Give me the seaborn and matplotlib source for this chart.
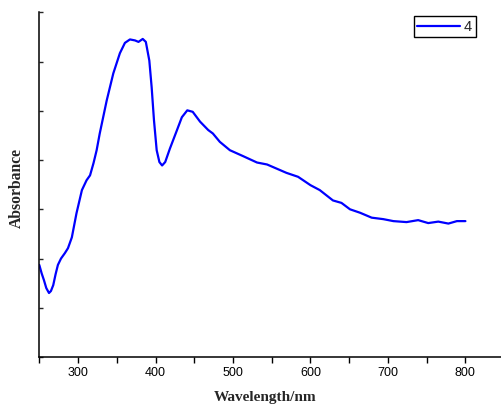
import matplotlib
matplotlib.use("Agg")
import matplotlib.pyplot as plt
import seaborn as sns
import pandas as pd
from matplotlib.ticker import MultipleLocator

# Absorption spectrum (sample "4")
wavelength = [250, 253, 256, 259, 262.5, 265, 268, 271, 274, 278, 283, 287, 292, 298,
              305, 311, 315.5, 320, 324, 328, 337, 345.5, 354, 360.5, 367, 373.5,
              378, 383.5, 387.5, 392, 395, 398, 401.5, 405, 408.5, 412.5, 418.5,
              427.5, 434, 441, 448, 457.5, 468, 474, 483, 496, 513, 531, 544, 569,
              584, 600, 612, 629, 640, 651, 664, 679, 694, 707, 724, 739, 752, 765,
              778, 789, 800]
absorbance = [0.187, 0.170, 0.156, 0.140, 0.130, 0.134, 0.146, 0.168, 0.187, 0.200,
              0.211, 0.221, 0.243, 0.292, 0.339, 0.359, 0.369, 0.394, 0.420, 0.454,
              0.521, 0.576, 0.617, 0.638, 0.645, 0.643, 0.640, 0.646, 0.640, 0.602,
              0.548, 0.481, 0.420, 0.396, 0.389, 0.396, 0.423, 0.460, 0.487, 0.501,
              0.498, 0.478, 0.461, 0.454, 0.437, 0.420, 0.408, 0.395, 0.391, 0.374,
              0.366, 0.349, 0.339, 0.318, 0.313, 0.300, 0.293, 0.283, 0.280, 0.276,
              0.274, 0.278, 0.272, 0.275, 0.271, 0.276, 0.276]

df = pd.DataFrame({"Wavelength": wavelength, "Absorbance": absorbance})

sns.set_style("ticks")
plt.rcParams["font.family"] = ["Liberation Sans", "DejaVu Sans"]

fig = plt.figure(figsize=(5.02, 4.05), dpi=100)
ax = fig.add_axes([0.0783, 0.1185, 0.926, 0.851])

sns.lineplot(data=df, x="Wavelength", y="Absorbance", color="#0000ff",
             linewidth=1.6, label="4", ax=ax)

ax.set_xlim(250, 850)
ax.set_ylim(0, 0.7)
ax.xaxis.set_major_locator(MultipleLocator(100))
ax.xaxis.set_minor_locator(MultipleLocator(50))
ax.yaxis.set_major_locator(MultipleLocator(0.1))
ax.set_yticklabels([])
ax.tick_params(axis="x", which="both", direction="out", length=4, width=1,
               labelsize=9, colors="black", pad=3)
ax.tick_params(axis="y", which="both", direction="in", length=3, width=1,
               labelleft=False)

for s in ["top", "right"]:
    ax.spines[s].set_visible(False)
for s in ["left", "bottom"]:
    ax.spines[s].set_linewidth(1.1)
    ax.spines[s].set_color("black")

ax.set_xlabel("Wavelength/nm", family="Liberation Serif", fontweight="bold",
              fontsize=11)
ax.set_ylabel("Absorbance", family="Liberation Serif", fontweight="bold",
              fontsize=11.3)
ax.xaxis.set_label_coords(0.4855, -0.098)
ax.yaxis.set_label_coords(-0.031, 0.49)

leg = ax.legend(loc="upper right", bbox_to_anchor=(475.7 / 502, 1 - 16 / 405),
                bbox_transform=fig.transFigure, borderaxespad=0, fancybox=False,
                framealpha=1, edgecolor="black", fontsize=10.5, handlelength=2.9,
                handletextpad=0.3, borderpad=0.25)
leg.get_frame().set_linewidth(1.0)

fig.savefig("out.png", dpi=100)
